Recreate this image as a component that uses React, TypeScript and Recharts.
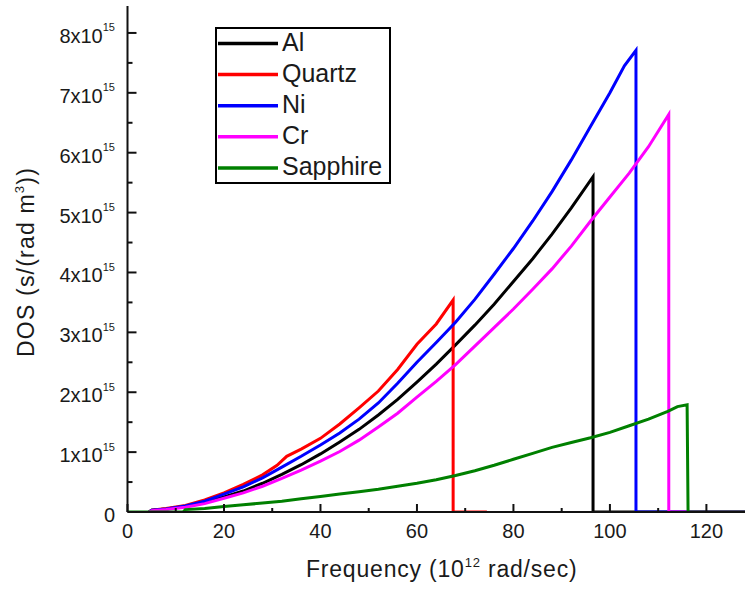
import React from "react";
import { LineChart, Line, XAxis, YAxis, Legend } from "recharts";

// Frequency (10^12 rad/sec) and DOS (10^15 s/(rad m^3)) per material
const AL_X = [4.5, 5, 8, 12, 16, 20, 24, 28, 32, 36, 40, 44, 48, 52, 56, 60, 64, 68, 72, 76, 80, 84, 88, 92, 96.5, 96.5, 128];
const AL_Y = [0, 0.03, 0.05, 0.09, 0.16, 0.25, 0.35, 0.48, 0.63, 0.79, 0.97, 1.17, 1.38, 1.62, 1.88, 2.17, 2.47, 2.79, 3.12, 3.47, 3.85, 4.23, 4.64, 5.08, 5.6, 0, 0];

const QUARTZ_X = [4.5, 5, 8, 12, 16, 20, 24, 28, 31, 33, 36, 40, 44, 48, 52, 56, 60, 64, 67.5, 67.5, 74.5];
const QUARTZ_Y = [0, 0.03, 0.06, 0.11, 0.2, 0.32, 0.46, 0.62, 0.78, 0.93, 1.05, 1.23, 1.47, 1.74, 2.02, 2.38, 2.8, 3.14, 3.54, 0, 0];

const NI_X = [4.5, 5, 8, 12, 16, 20, 24, 28, 32, 36, 40, 44, 48, 52, 56, 60, 64, 68, 72, 76, 80, 84, 88, 92, 96, 100, 103, 105.4, 105.4, 128];
const NI_Y = [0, 0.03, 0.05, 0.1, 0.18, 0.3, 0.42, 0.57, 0.75, 0.93, 1.12, 1.32, 1.55, 1.82, 2.15, 2.5, 2.83, 3.17, 3.55, 3.97, 4.4, 4.86, 5.35, 5.88, 6.44, 7.0, 7.45, 7.71, 0, 0];

const CR_X = [4.5, 5, 8, 12, 16, 20, 24, 28, 32, 36, 40, 44, 48, 52, 56, 60, 64, 68, 72, 76, 80, 84, 88, 92, 96, 100, 104, 108, 112.2, 112.2, 128];
const CR_Y = [0, 0.02, 0.04, 0.08, 0.14, 0.23, 0.32, 0.43, 0.56, 0.7, 0.85, 1.01, 1.2, 1.42, 1.65, 1.92, 2.18, 2.46, 2.77, 3.08, 3.39, 3.72, 4.06, 4.44, 4.86, 5.26, 5.66, 6.1, 6.64, 0, 0];

const SAPPHIRE_X = [0, 11.5, 12, 16, 20, 24, 28, 32, 36, 40, 44, 48, 52, 56, 60, 64, 68, 72, 76, 80, 84, 88, 92, 96, 100, 104, 108, 112, 114, 116, 116.2, 128];
const SAPPHIRE_Y = [0, 0, 0.04, 0.06, 0.09, 0.12, 0.15, 0.18, 0.22, 0.26, 0.3, 0.34, 0.38, 0.43, 0.48, 0.54, 0.61, 0.69, 0.78, 0.88, 0.98, 1.08, 1.16, 1.24, 1.33, 1.44, 1.55, 1.68, 1.76, 1.79, 0, 0];

const SERIES_NAMES = ["Al", "Quartz", "Ni", "Cr", "Sapphire"];
const SERIES_COLORS = ["#000000", "#ff0000", "#0000ff", "#ff00ff", "#008000"];
const SERIES_X = [AL_X, QUARTZ_X, NI_X, CR_X, SAPPHIRE_X];
const SERIES_Y = [AL_Y, QUARTZ_Y, NI_Y, CR_Y, SAPPHIRE_Y];

const X_TICKS = [0, 10, 20, 30, 40, 50, 60, 70, 80, 90, 100, 110, 120];
const Y_TICKS = [0, 0.5, 1, 1.5, 2, 2.5, 3, 3.5, 4, 4.5, 5, 5.5, 6, 6.5, 7, 7.5, 8];

const FONT = "'Liberation Sans', Arial, sans-serif";
const TEXT_COLOR = "#1a1a1a";
const PLOT_LEFT = 127.5;
const PLOT_TOP = 6;
const PLOT_BOTTOM = 512;

const seriesData = SERIES_X.map((xs, i) => xs.map((x, j) => ({ x, y: SERIES_Y[i][j] })));

const YTick = (props: any) => {
  const v = props.payload.value;
  const y = props.y;
  const major = Number.isInteger(v);
  return (
    <g>
      <line x1={PLOT_LEFT} x2={PLOT_LEFT + (major ? 9 : 5)} y1={y} y2={y} stroke="#111" strokeWidth={2} />
      {major && (
        <text x={115} y={y + 10} textAnchor="end" fontFamily={FONT} fontSize={20} fill={TEXT_COLOR}>
          {v === 0 ? (
            "0"
          ) : (
            <>
              {`${v}x10`}
              <tspan dy={-11.5} fontSize={11}>15</tspan>
            </>
          )}
        </text>
      )}
    </g>
  );
};

const XTick = (props: any) => {
  const v = props.payload.value;
  const x = props.x;
  const major = v % 20 === 0;
  return (
    <g>
      <line x1={x} x2={x} y1={PLOT_BOTTOM} y2={PLOT_BOTTOM - (major ? 8 : 4)} stroke="#111" strokeWidth={2} />
      {major && (
        <text x={x} y={538} textAnchor="middle" fontFamily={FONT} fontSize={20} fill={TEXT_COLOR}>
          {String(v)}
        </text>
      )}
    </g>
  );
};

const TopTick = (props: any) => {
  const v = props.payload.value;
  const x = props.x;
  const major = v % 20 === 0;
  return <line x1={x} x2={x} y1={PLOT_TOP} y2={PLOT_TOP + (major ? 8 : 3)} stroke="#111" strokeWidth={2} />;
};

const LegendBox = () => (
  <svg width={176} height={157} style={{ display: "block" }}>
    <rect x={1} y={1} width={174} height={155} fill="#fff" stroke="#000" strokeWidth={2} />
    {SERIES_NAMES.map((name, i) => {
      const cy = 16.5 + i * 31.1;
      return (
        <g key={name}>
          <line x1={3} x2={63} y1={cy} y2={cy} stroke={SERIES_COLORS[i]} strokeWidth={3.5} />
          <text x={67} y={cy + 7.5} fontFamily={FONT} fontSize={25} fill={TEXT_COLOR}>
            {name}
          </text>
        </g>
      );
    })}
  </svg>
);

const YLabel = () => (
  <text
    x={33.5}
    y={262}
    transform="rotate(-90, 33.5, 262)"
    textAnchor="middle"
    fontFamily={FONT}
    fontSize={23}
    letterSpacing={1.2}
    fill={TEXT_COLOR}
  >
    DOS (s/(rad m<tspan dy={-10} fontSize={13}>3</tspan>
    <tspan dy={10}>))</tspan>
  </text>
);

const XLabel = () => (
  <text x={441.7} y={577} textAnchor="middle" fontFamily={FONT} fontSize={23} letterSpacing={0.8} fill={TEXT_COLOR}>
    Frequency (10<tspan dy={-10} fontSize={13}>12</tspan>
    <tspan dy={10}> rad/sec)</tspan>
  </text>
);

export default function App() {
  return (
    <div style={{ position: "absolute", left: 0, top: 0, width: 745, height: 592, background: "#fff" }}>
      <LineChart
        width={745}
        height={592}
        margin={{ top: PLOT_TOP, right: 0, bottom: 0, left: 0 }}
        style={{ overflow: "visible" }}
      >
        <XAxis
          xAxisId="top"
          orientation="top"
          type="number"
          dataKey="x"
          domain={[0, 128]}
          ticks={X_TICKS}
          interval={0}
          height={0}
          tickLine={false}
          tick={<TopTick />}
          axisLine={{ stroke: "#111", strokeWidth: 2 }}
          allowDataOverflow
        />
        <XAxis
          type="number"
          dataKey="x"
          domain={[0, 128]}
          ticks={X_TICKS}
          interval={0}
          height={80}
          tickLine={false}
          tick={<XTick />}
          axisLine={{ stroke: "#111", strokeWidth: 2 }}
          allowDataOverflow
          label={<XLabel />}
        />
        <YAxis
          type="number"
          domain={[0, 8.45]}
          ticks={Y_TICKS}
          interval={0}
          width={PLOT_LEFT}
          tickLine={false}
          tick={<YTick />}
          axisLine={{ stroke: "#111", strokeWidth: 2 }}
          allowDataOverflow
          label={<YLabel />}
        />
        <Legend
          layout="vertical"
          align="center"
          verticalAlign="middle"
          wrapperStyle={{ left: 215, top: 27, width: 176, height: 157 }}
          content={() => <LegendBox />}
        />
        {SERIES_NAMES.map((name, i) => (
          <Line
            key={name}
            name={name}
            data={seriesData[i]}
            dataKey="y"
            type="linear"
            stroke={SERIES_COLORS[i]}
            strokeWidth={3}
            dot={false}
            activeDot={false}
            isAnimationActive={false}
          />
        ))}
      </LineChart>
    </div>
  );
}
